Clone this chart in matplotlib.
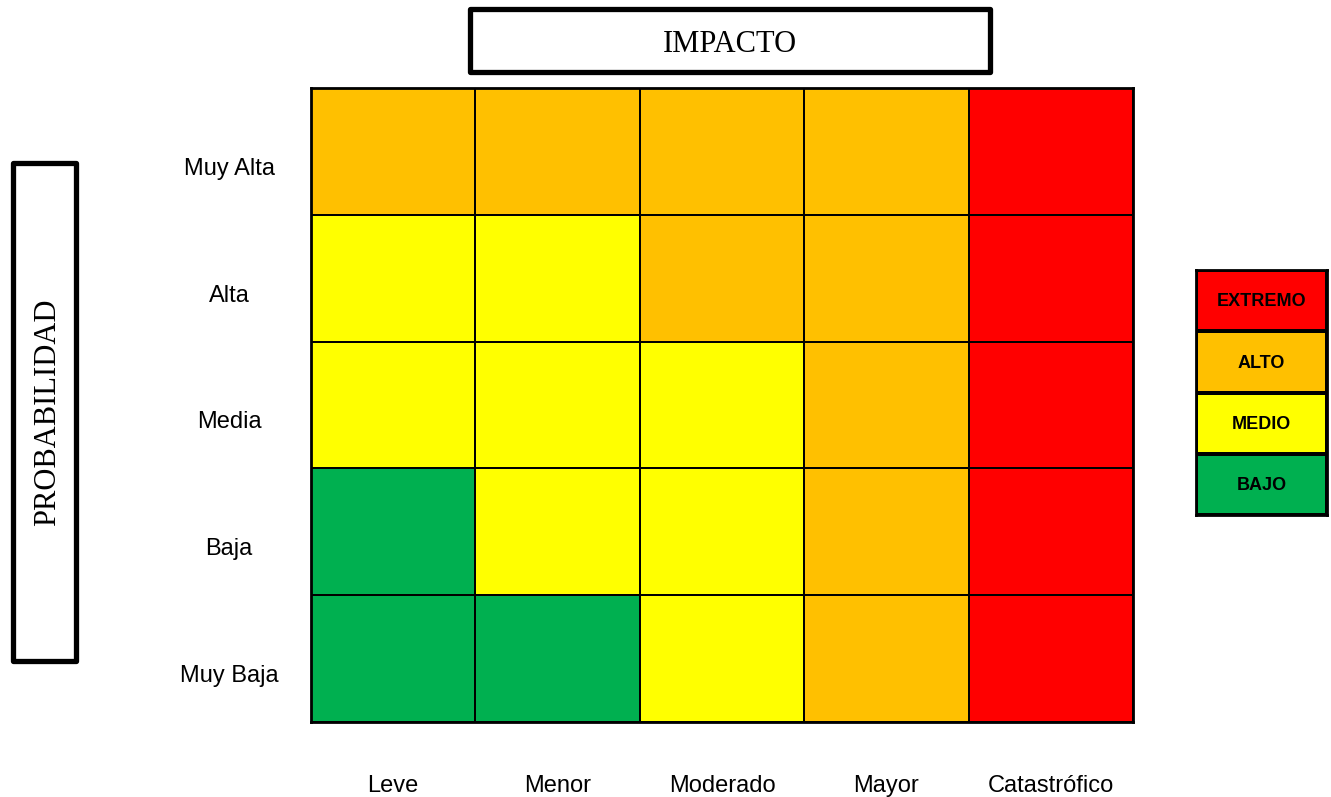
import numpy as np
import matplotlib.pyplot as plt
from matplotlib.colors import ListedColormap
from matplotlib.patches import Rectangle
from matplotlib.transforms import ScaledTranslation

impacto = ["Leve", "Menor", "Moderado", "Mayor", "Catastrófico"]
probabilidad = ["Muy Alta", "Alta", "Media", "Baja", "Muy Baja"]
niveles = ["BAJO", "MEDIO", "ALTO", "EXTREMO"]
colores = ["#00B050", "#FFFF00", "#FFC000", "#FF0000"]

# risk level per cell, rows from Muy Alta down to Muy Baja
matriz = [
    ["ALTO", "ALTO", "ALTO", "ALTO", "EXTREMO"],
    ["MEDIO", "MEDIO", "ALTO", "ALTO", "EXTREMO"],
    ["MEDIO", "MEDIO", "MEDIO", "ALTO", "EXTREMO"],
    ["BAJO", "MEDIO", "MEDIO", "ALTO", "EXTREMO"],
    ["BAJO", "BAJO", "MEDIO", "ALTO", "EXTREMO"],
]

W, H = 1331, 797
fig = plt.figure(figsize=(W / 100, H / 100), dpi=100)


def fbox(x0, y0, x1, y1):
    # pixel box (top-left origin) -> figure fraction rect
    return [x0 / W, 1 - y1 / H, (x1 - x0) / W, (y1 - y0) / H]


cmap = ListedColormap(colores)
vals = np.array([[niveles.index(c) for c in fila] for fila in matriz])

ax = fig.add_axes(fbox(311, 88, 1133, 722))
ax.pcolormesh(vals, cmap=cmap, vmin=-0.5, vmax=3.5, edgecolors="black", linewidth=1.1)
ax.set_xlim(0, len(impacto))
ax.set_ylim(len(probabilidad), 0)
ax.set_xticks(np.arange(len(impacto)) + 0.5)
ax.set_xticklabels(impacto, fontsize=17, family="Liberation Sans")
ax.set_yticks(np.arange(len(probabilidad)) + 0.5)
ax.set_yticklabels(probabilidad, fontsize=17, family="Liberation Sans", ha="center")
ax.tick_params(axis="x", length=0, pad=38)
ax.tick_params(axis="y", length=0, pad=59)
for lbl in ax.get_yticklabels():
    lbl.set_transform(lbl.get_transform() + ScaledTranslation(0, -0.15, fig.dpi_scale_trans))
for s in ax.spines.values():
    s.set_linewidth(2)

# legend
lax = fig.add_axes(fbox(1196, 270, 1327, 515))
leg_vals = np.array([[3], [2], [1], [0]])
lax.pcolormesh(leg_vals, cmap=cmap, vmin=-0.5, vmax=3.5, edgecolors="black", linewidth=1.6)
lax.set_xlim(0, 1)
lax.set_ylim(4, 0)
for i, v in enumerate(leg_vals[:, 0]):
    lax.text(0.5, i + 0.52, niveles[v], ha="center", va="center", fontsize=13,
             fontweight="bold", family="Liberation Sans")
lax.set_xticks([])
lax.set_yticks([])
for s in lax.spines.values():
    s.set_linewidth(2)

# title boxes
x0, y0, w, h = fbox(470, 9, 990, 72)
fig.patches.append(Rectangle((x0, y0), w, h, transform=fig.transFigure, fill=False,
                             edgecolor="black", linewidth=3.8, joinstyle="round"))
fig.text(x0 + w / 2, y0 + h / 2 - 0.005, "IMPACTO", ha="center", va="center", fontsize=22,
         family="Liberation Serif")

x0, y0, w, h = fbox(13, 163, 76, 661)
fig.patches.append(Rectangle((x0, y0), w, h, transform=fig.transFigure, fill=False,
                             edgecolor="black", linewidth=3.8, joinstyle="round"))
fig.text(x0 + w / 2 + 0.002, y0 + h / 2, "PROBABILIDAD", ha="center", va="center",
         fontsize=22, rotation=90, family="Liberation Serif")

fig.savefig("out.png", dpi=100)
